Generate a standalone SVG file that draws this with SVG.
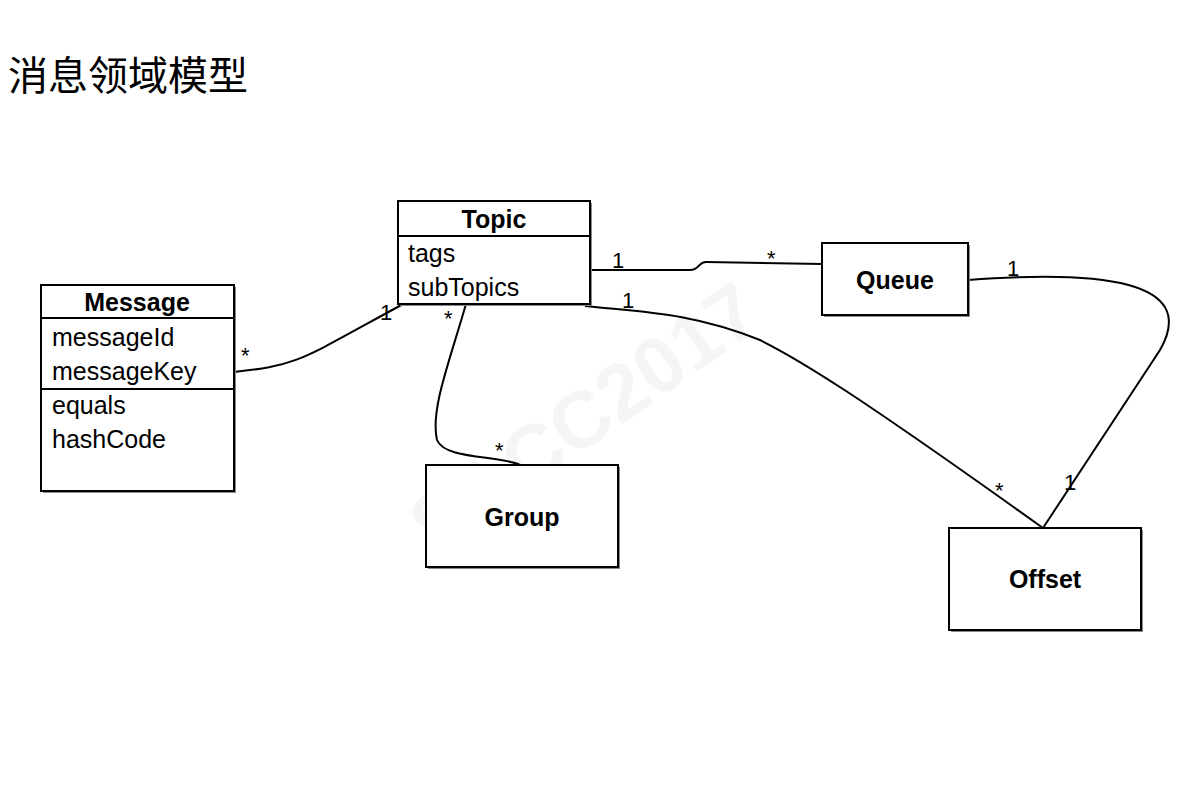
<svg xmlns="http://www.w3.org/2000/svg" width="1190" height="807" viewBox="0 0 1190 807">
<style>
.box{fill:#fff;stroke:#000;stroke-width:2}
.sh{fill:#888}
.t{font-family:"Liberation Sans",Arial,sans-serif;font-size:25px;fill:#000}
.b{font-family:"Liberation Sans",Arial,sans-serif;font-size:25px;font-weight:bold;fill:#000;text-anchor:middle}
.c{fill:none;stroke:#000;stroke-width:2}
.l{font-family:"Liberation Sans",Arial,sans-serif;font-size:22px;fill:#000}
</style>
<rect width="1190" height="807" fill="#fff"/>
<text x="8" y="90" font-family="'Noto Sans CJK SC',sans-serif" font-size="40" fill="#000">消息领域模型</text>
<text x="600" y="440" transform="rotate(-35 600 440)" font-family="'Liberation Sans',Arial,sans-serif" font-size="80" font-weight="bold" fill="#000" fill-opacity="0.04" text-anchor="middle">SACC2017</text>
<g id="connectors">
<path class="c" d="M234,372 C300,365 300,360 405,303"/>
<path class="c" d="M590,270 L690,270 C700,270 698,262 706,262 L822,264"/>
<path class="c" d="M466,304 C450,360 430,410 437,440 C445,460 500,455 520,465"/>
<path class="c" d="M585,306 C640,312 690,312 760,340 C800,360 850,390 1043,528"/>
<path class="c" d="M968,280 C1100,270 1200,280 1160,350 L1043,528"/>
</g>
<g id="labels">
<text class="l" x="612" y="268">1</text>
<text class="l" x="767" y="266">*</text>
<text class="l" x="1007" y="276">1</text>
<text class="l" x="622" y="308">1</text>
<text class="l" x="380" y="320">1</text>
<text class="l" x="241" y="363">*</text>
<text class="l" x="444" y="326">*</text>
<text class="l" x="495" y="458">*</text>
<text class="l" x="995" y="498">*</text>
<text class="l" x="1064" y="490">1</text>
</g>
<g id="message">
<rect class="sh" x="43" y="287" width="193" height="206"/>
<rect class="box" x="41" y="285" width="193" height="206"/>
<line class="c" x1="41" y1="318" x2="234" y2="318"/>
<line class="c" x1="41" y1="389" x2="234" y2="389"/>
<text class="b" x="137" y="311">Message</text>
<text class="t" x="52" y="346">messageId</text>
<text class="t" x="52" y="380">messageKey</text>
<text class="t" x="52" y="414">equals</text>
<text class="t" x="52" y="448">hashCode</text>
</g>
<g id="topic">
<rect class="sh" x="400" y="203" width="192" height="103"/>
<rect class="box" x="398" y="201" width="192" height="103"/>
<line class="c" x1="398" y1="236" x2="590" y2="236"/>
<text class="b" x="494" y="228">Topic</text>
<text class="t" x="408" y="262">tags</text>
<text class="t" x="408" y="296">subTopics</text>
</g>
<g id="queue">
<rect class="sh" x="824" y="245" width="146" height="72"/>
<rect class="box" x="822" y="243" width="146" height="72"/>
<text class="b" x="895" y="289">Queue</text>
</g>
<g id="group">
<rect class="sh" x="428" y="467" width="192" height="102"/>
<rect class="box" x="426" y="465" width="192" height="102"/>
<text class="b" x="522" y="526">Group</text>
</g>
<g id="offset">
<rect class="sh" x="951" y="530" width="192" height="102"/>
<rect class="box" x="949" y="528" width="192" height="102"/>
<text class="b" x="1045" y="588">Offset</text>
</g>
</svg>
